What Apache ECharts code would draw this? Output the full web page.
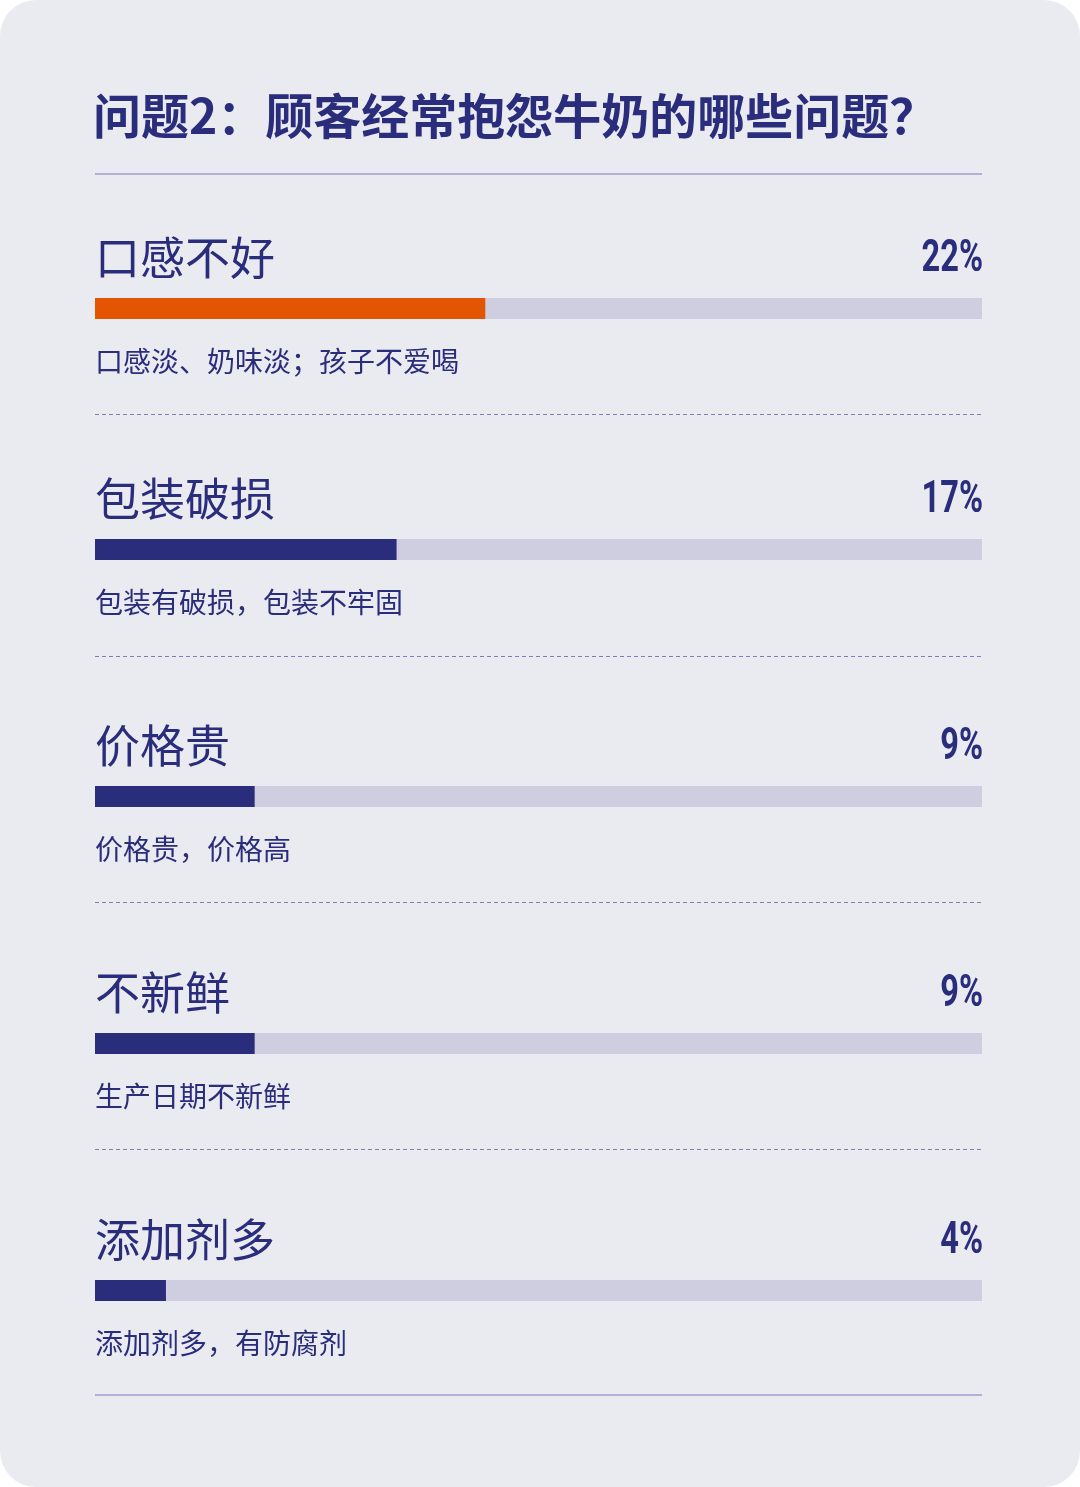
<!DOCTYPE html>
<html>
<head>
<meta charset="utf-8">
<script src="https://cdn.jsdelivr.net/npm/echarts@6/dist/echarts.min.js"></script>
<style>
  html, body { margin: 0; padding: 0; background: #ffffff; }
  #chart { width: 1080px; height: 1487px; background: #EAEBF1; border-radius: 36px; overflow: hidden; }
</style>
</head>
<body>
<div id="chart"></div>
<script>
const titleText = '问题2：顾客经常抱怨牛奶的哪些问题？';
const categories = ['口感不好', '包装破损', '价格贵', '不新鲜', '添加剂多'];
const values = [22, 17, 9, 9, 4];
const descriptions = [
  '口感淡、奶味淡；孩子不爱喝',
  '包装有破损，包装不牢固',
  '价格贵，价格高',
  '生产日期不新鲜',
  '添加剂多，有防腐剂'
];
const scaleMax = 50;
const highlightIndex = 0;

const NAVY = '#2A2C7C';
const ORANGE = '#E35500';
const TRACK = '#CFCEE0';
const CJK = '"Noto Sans CJK SC", "Noto Sans", sans-serif';
const NUM = 'Roboto, "Noto Sans", sans-serif';

// layout
const rowTops = [298, 539, 786, 1033, 1280];
const BAR_H = 21;
const dashedYs = [414.5, 656.5, 902.5, 1149.5];

const chart = echarts.init(document.getElementById('chart'), null, { renderer: 'canvas' });

const graphics = [
  { type: 'line', shape: { x1: 95, y1: 174, x2: 982, y2: 174 }, style: { stroke: '#B3B0D6', lineWidth: 2 } },
  { type: 'line', shape: { x1: 95, y1: 1395, x2: 982, y2: 1395 }, style: { stroke: '#B3B0D6', lineWidth: 2 } }
];
dashedYs.forEach(y => graphics.push({
  type: 'line', shape: { x1: 95, y1: y, x2: 982, y2: y },
  style: { stroke: '#7F7DB9', lineWidth: 1, lineDash: [4, 3] }
}));

const grids = [], xAxes = [], yAxes = [], series = [];
categories.forEach((cat, i) => {
  grids.push({ left: 95, right: 98, top: rowTops[i], height: BAR_H });
  xAxes.push({ gridIndex: i, type: 'value', min: 0, max: scaleMax, show: false });
  yAxes.push({ gridIndex: i, type: 'category', data: [cat], show: false });
  // track
  series.push({
    type: 'bar', xAxisIndex: i, yAxisIndex: i, barWidth: BAR_H, barGap: '-100%',
    silent: true, z: 1, itemStyle: { color: TRACK }, data: [scaleMax]
  });
  // value bar + category name
  series.push({
    type: 'bar', xAxisIndex: i, yAxisIndex: i, barWidth: BAR_H, barGap: '-100%', z: 2,
    itemStyle: { color: i === highlightIndex ? ORANGE : NAVY },
    data: [values[i]],
    label: {
      show: true, position: [0, -40], align: 'left', verticalAlign: 'middle',
      formatter: () => cat,
      fontFamily: CJK, fontSize: 45, fontWeight: 'normal', color: NAVY
    }
  });
  // description under the bar
  series.push({
    type: 'bar', xAxisIndex: i, yAxisIndex: i, barWidth: BAR_H, barGap: '-100%',
    silent: true, z: 0, itemStyle: { color: 'rgba(0,0,0,0)' }, data: [scaleMax],
    label: {
      show: true, position: [0, 63], align: 'left', verticalAlign: 'middle',
      formatter: () => descriptions[i],
      fontFamily: CJK, fontSize: 28, fontWeight: 'normal', color: NAVY
    }
  });
  // percent label at right end of the track (condensed)
  series.push({
    type: 'custom', xAxisIndex: i, yAxisIndex: i, silent: true, z: 5,
    data: [[scaleMax, 0, values[i]]],
    renderItem: (params, api) => {
      const pt = api.coord([api.value(0), api.value(1)]);
      return {
        type: 'text',
        x: pt[0] + 1, y: pt[1] - 49,
        scaleX: 0.74,
        style: {
          text: api.value(2) + '%',
          fill: NAVY,
          font: 'bold 44px ' + NUM,
          align: 'right',
          verticalAlign: 'middle'
        }
      };
    }
  });
});

const option = {
  animation: false,
  backgroundColor: 'transparent',
  title: {
    text: titleText,
    left: 93,
    top: 92,
    padding: 0,
    textStyle: { fontFamily: CJK, fontSize: 48, fontWeight: 'bold', color: NAVY, lineHeight: 48 }
  },
  grid: grids,
  xAxis: xAxes,
  yAxis: yAxes,
  graphic: graphics,
  series: series
};
chart.setOption(option);
</script>
</body>
</html>
